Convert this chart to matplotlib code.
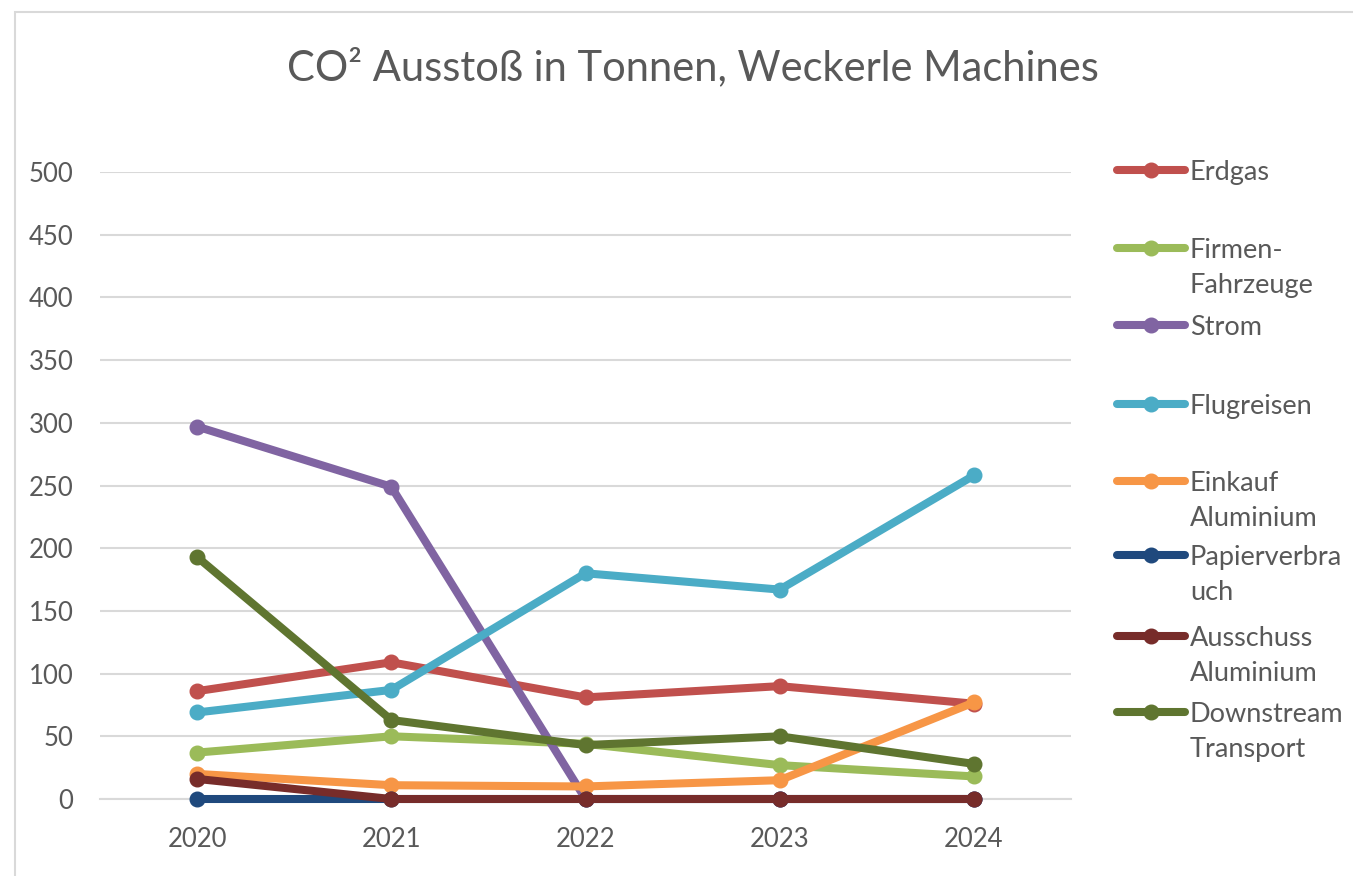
import matplotlib
matplotlib.use("Agg")
import matplotlib.pyplot as plt
from matplotlib.lines import Line2D
from matplotlib.patches import Rectangle

plt.rcParams['font.family'] = ['Lato', 'DejaVu Sans']

# data (tonnes CO2)
years = ['2020', '2021', '2022', '2023', '2024']
erdgas = [86, 109, 81, 90, 76]
firmen_fahrzeuge = [37, 50, 44, 27, 18]
strom = [297, 249, 0, 0, 0]
flugreisen = [69, 87, 180, 167, 258]
einkauf_alu = [20, 11, 10, 15, 77]
papier = [0, 0, 0, 0, 0]
ausschuss_alu = [16, 0, 0, 0, 0]
downstream = [193, 63, 43, 50, 28]

series = [
    ("Erdgas", erdgas, "#C0504D"),
    ("Firmen-\nFahrzeuge", firmen_fahrzeuge, "#9BBB59"),
    ("Strom", strom, "#8064A2"),
    ("Flugreisen", flugreisen, "#4BACC6"),
    ("Einkauf\nAluminium", einkauf_alu, "#F79646"),
    ("Papierverbra\nuch", papier, "#1F497D"),
    ("Ausschuss\nAluminium", ausschuss_alu, "#772C2A"),
    ("Downstream\nTransport", downstream, "#5F7530"),
]

W, H = 1353, 876
fig = plt.figure(figsize=(W / 100, H / 100), dpi=100)
fig.patch.set_facecolor("white")

# chart frame (cut off at right/bottom)
fig.add_artist(Rectangle((15 / W, -0.1), 1.2, 1 - 12 / H + 0.1,
                         transform=fig.transFigure, fill=False,
                         edgecolor="#D9D9D9", linewidth=1.5))

ax = fig.add_axes([100 / W, 1 - 799 / H, (1071 - 100) / W, (799 - 172) / H])
x = list(range(len(years)))
for name, vals, col in series:
    ax.plot(x, vals, color=col, linewidth=5.8, marker='o', markersize=10.5,
            solid_capstyle='round', clip_on=False, zorder=3)

ax.set_xlim(-0.5, len(years) - 0.5)
ax.set_ylim(0, 500)
ax.set_yticks(range(0, 501, 50))
ax.set_xticks(x)
ax.set_xticklabels(years)
ax.yaxis.grid(True, color="#D9D9D9", linewidth=1.5)
ax.set_axisbelow(True)
for s in ['top', 'right', 'left']:
    ax.spines[s].set_visible(False)
ax.spines['bottom'].set_color("#D9D9D9")
ax.spines['bottom'].set_linewidth(1.5)
ax.tick_params(axis='both', length=0, labelsize=18.5, colors="#595959")
ax.tick_params(axis='y', pad=19)
ax.tick_params(axis='x', pad=20)

fig.text(693 / W, 1 - 67 / H, "CO² Ausstoß in Tonnen, Weckerle Machines",
         ha='center', va='center', fontsize=30, color="#595959")

# legend, drawn by hand so the handle sits on the first text line
leg_y = [170, 248, 325, 404, 481, 555, 636, 712]
for (name, vals, col), yy in zip(series, leg_y):
    fy = 1 - yy / H
    fig.add_artist(Line2D([1117 / W, 1185 / W], [fy, fy], color=col,
                          linewidth=5.8, solid_capstyle='round',
                          transform=fig.transFigure))
    fig.add_artist(Line2D([1151 / W], [fy], color=col, marker='o',
                          markersize=10.5, transform=fig.transFigure))
    fig.text(1190 / W, fy + 10 / H, name, ha='left', va='top', fontsize=19.5,
             color="#595959", linespacing=1.5)

fig.savefig("out.png", dpi=100)
